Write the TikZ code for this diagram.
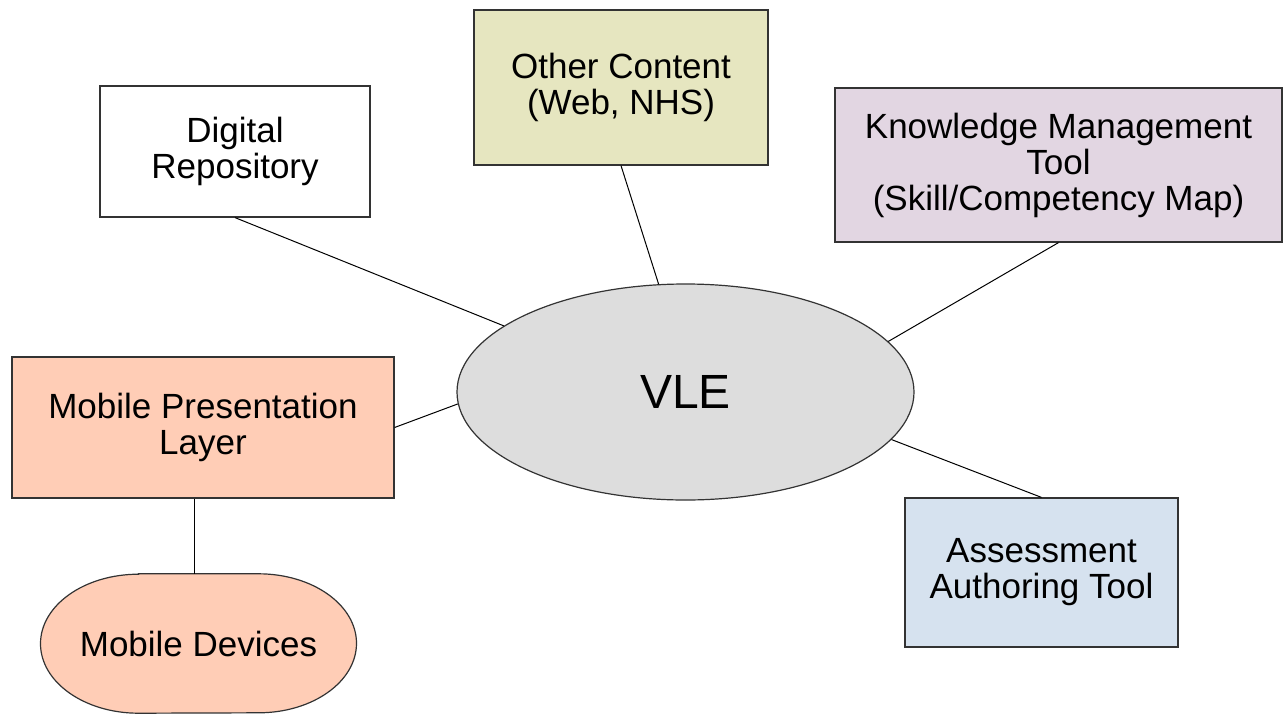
\documentclass[tikz,border=0pt]{standalone}
\usepackage{fontspec}
\setmainfont{Liberation Sans}
\usepackage{xcolor}
\usepackage{tikz}
\usetikzlibrary{calc,positioning,shapes.geometric}

\definecolor{contentfill}{HTML}{E6E6C0}
\definecolor{kmfill}{HTML}{E2D6E2}
\definecolor{mobilefill}{HTML}{FFCDB6}
\definecolor{assessfill}{HTML}{D6E2EF}
\definecolor{vlefill}{HTML}{DDDDDD}
\definecolor{edgegray}{HTML}{333333}

\begin{document}
\begin{tikzpicture}[
    x = 1pt, y = -1pt,
    component/.style={
        rectangle, % shape
        draw = edgegray, %border
        line width = 1.2pt,
        inner sep = 0pt,
        align = center,
        font = \fontsize{35}{36}\selectfont %font
      },
    link/.style={draw = black, line width = 1pt}]
  \useasboundingbox (0,0) rectangle (1285,715);
  % the hub
  \node [ellipse, draw = edgegray, line width = 1.2pt, fill = vlefill,
         minimum width = 457pt, minimum height = 216pt, inner sep = 0pt,
         font = \fontsize{48}{50}\selectfont] (vle) at (685.5,392) {VLE};
  % the boxes round it
  \node [component, fill = white, minimum width = 270pt, minimum height = 131pt]
        (repo) at (235,151.5) {Digital\\Repository};
  \node [component, fill = contentfill, minimum width = 294pt, minimum height = 155pt]
        (content) at (621,87.5) {Other Content\\(Web, NHS)};
  \node [component, fill = kmfill, minimum width = 447pt, minimum height = 154pt]
        (kmt) at (1058.5,165) {Knowledge Management\\Tool\\(Skill/Competency Map)};
  \node [component, fill = mobilefill, minimum width = 382pt, minimum height = 141pt]
        (mpl) at (203,427.5) {Mobile Presentation\\Layer};
  \node [component, fill = assessfill, minimum width = 273pt, minimum height = 149pt]
        (aat) at (1041.5,572.5) {Assessment\\Authoring Tool};
  % the devices, a flat oval
  \node [inner sep = 0pt, minimum width = 316pt, minimum height = 139pt]
        (devices) at (198.5,643.5) {};
  \draw [draw = edgegray, line width = 1.2pt, fill = mobilefill]
    ($(devices.north)+(-60,0)$) -- ($(devices.north)+(60,0)$)
    arc [start angle = 90, end angle = -90, x radius = 98, y radius = -69.5]
    -- ($(devices.south)+(-60,0)$)
    arc [start angle = -90, end angle = -270, x radius = 98, y radius = -69.5]
    -- cycle;
  \node [font = \fontsize{35}{36}\selectfont] (devtext) at (devices.center) {Mobile Devices};
  % connectors
  \draw [link] (repo.south) -- (vle.160);
  \draw [link] (content.south) -- (vle.104);
  \draw [link] (kmt.south) -- (vle.14);
  \draw [link] (mpl.east) -- (vle.183);
  \draw [link] (vle.-13) -- (aat.north);
  \draw [link] ($(mpl.south)+(-9,0)$) coordinate (drop) -- (drop |- devices.north);
\end{tikzpicture}
\end{document}
